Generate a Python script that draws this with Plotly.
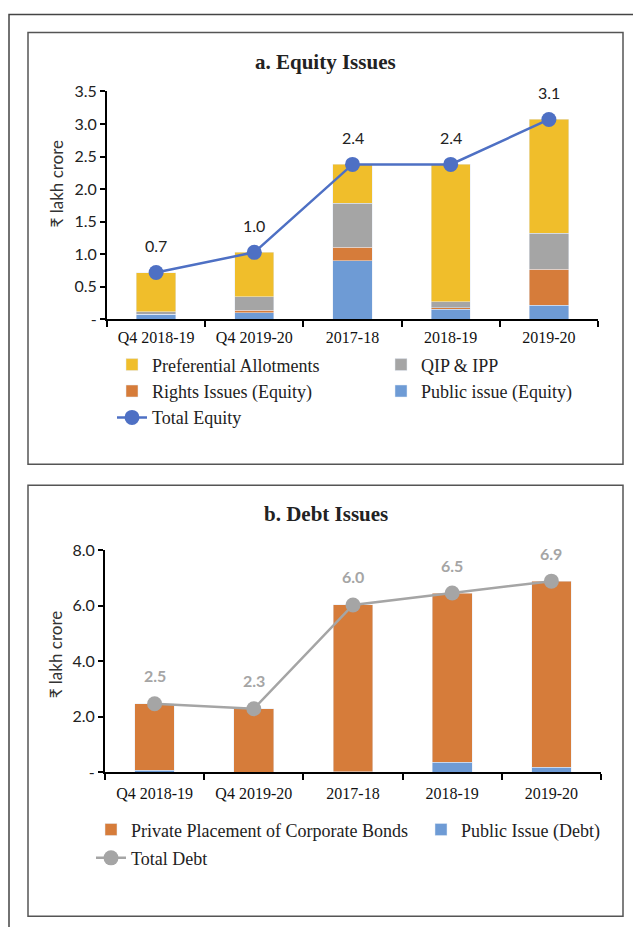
import plotly.graph_objects as go

# Drawing size and the page-pixel -> paper mapping used for layout positions.
W = 633
H = 937
Y_OFF = 8.5      # page rows above the drawing
Y_SCALE = 0.98   # page rows per drawing pixel

# ---- data -------------------------------------------------------------
categories = ["Q4 2018-19", "Q4 2019-20", "2017-18", "2018-19", "2019-20"]

# a. Equity issues (₹ lakh crore)
eq_public = [0.08, 0.10, 0.90, 0.155, 0.215]
eq_rights = [0.00, 0.04, 0.21, 0.025, 0.555]
eq_qip = [0.04, 0.21, 0.67, 0.09, 0.55]
eq_pref = [0.60, 0.68, 0.60, 2.11, 1.75]
eq_total = [0.72, 1.03, 2.38, 2.38, 3.07]

# b. Debt issues (₹ lakh crore)
debt_public = [0.08, 0.01, 0.02, 0.37, 0.18]
debt_private = [2.39, 2.28, 6.01, 6.09, 6.71]
debt_total = [2.47, 2.29, 6.03, 6.46, 6.89]

eq_ticks = [0, 0.5, 1.0, 1.5, 2.0, 2.5, 3.0, 3.5]
debt_ticks = [0, 2, 4, 6, 8]

# ---- styling ----------------------------------------------------------
C_PREF = "#F0BE2B"
C_QIP = "#A5A5A5"
C_RIGHTS = "#D67C3A"
C_PUBLIC = "#6E9BD5"
C_EQ_LINE = "#4E70C4"
C_DEBT_LINE = "#A5A5A5"

SERIF = "Liberation Serif, DejaVu Serif, serif"
SANS = "Lato, Noto Sans, DejaVu Sans, sans-serif"


def px_x(p):
    # page pixel column -> paper fraction
    return p / W


def px_y(p):
    # page pixel row -> paper fraction
    return 1 - ((p - Y_OFF) / Y_SCALE) / H


def fmt_tick(v):
    return "-" if v == 0 else f"{v:.1f}"


fig = go.Figure()

# stacked equity bars (bottom to top)
for name, vals, col, rank, leg in [
    ("Public issue (Equity)", eq_public, C_PUBLIC, 2, "legend2"),
    ("Rights Issues (Equity)", eq_rights, C_RIGHTS, 2, "legend"),
    ("QIP & IPP", eq_qip, C_QIP, 1, "legend2"),
    ("Preferential Allotments", eq_pref, C_PREF, 1, "legend"),
]:
    fig.add_trace(go.Bar(
        x=categories, y=vals, name=name, marker_color=col,
        xaxis="x", yaxis="y", width=0.4, legend=leg, legendrank=rank,
        legendgroup=name,
    ))

fig.add_trace(go.Scatter(
    x=categories, y=eq_total, name="Total Equity", mode="lines+markers",
    line=dict(color=C_EQ_LINE, width=2.5),
    marker=dict(color=C_EQ_LINE, size=15),
    xaxis="x", yaxis="y", legend="legend", legendrank=3, legendgroup="te",
))

# stacked debt bars
for name, vals, col, leg in [
    ("Public Issue (Debt)", debt_public, C_PUBLIC, "legend4"),
    ("Private Placement of Corporate Bonds", debt_private, C_RIGHTS, "legend3"),
]:
    fig.add_trace(go.Bar(
        x=categories, y=vals, name=name, marker_color=col,
        xaxis="x2", yaxis="y2", width=0.4, legend=leg, legendrank=1,
        legendgroup=name,
    ))

fig.add_trace(go.Scatter(
    x=categories, y=debt_total, name="Total Debt", mode="lines+markers",
    line=dict(color=C_DEBT_LINE, width=2.5),
    marker=dict(color=C_DEBT_LINE, size=15),
    xaxis="x2", yaxis="y2", legend="legend3", legendrank=2, legendgroup="td",
))

# value labels above the total markers
annotations = []
for c, v in zip(categories, eq_total):
    annotations.append(dict(
        x=c, y=v, xref="x", yref="y", text=f"{v:.1f}", showarrow=False,
        yshift=27, font=dict(family=SANS, size=16, color="#222222"),
    ))
for c, v in zip(categories, debt_total):
    annotations.append(dict(
        x=c, y=v, xref="x2", yref="y2", text=f"<b>{v:.1f}</b>", showarrow=False,
        yshift=28, font=dict(family=SANS, size=16, color="#A5A5A5"),
    ))

# panel titles and axis titles
annotations += [
    dict(x=px_x(326), y=px_y(61), xref="paper", yref="paper",
         xanchor="center", yanchor="middle",
         text="<b>a. Equity Issues</b>", showarrow=False,
         font=dict(family=SERIF, size=21, color="#222222")),
    dict(x=px_x(326), y=px_y(513), xref="paper", yref="paper",
         xanchor="center", yanchor="middle",
         text="<b>b. Debt Issues</b>", showarrow=False,
         font=dict(family=SERIF, size=21, color="#222222")),
    dict(x=px_x(56), y=px_y(182), xref="paper", yref="paper",
         xanchor="center", yanchor="middle",
         text="₹ lakh crore", textangle=-90, showarrow=False,
         font=dict(family=SANS, size=17, color="#333333")),
    dict(x=px_x(55), y=px_y(653), xref="paper", yref="paper",
         xanchor="center", yanchor="middle",
         text="₹ lakh crore", textangle=-90, showarrow=False,
         font=dict(family=SANS, size=17, color="#333333")),
]

# frames around the page and the two panels
shapes = [
    dict(type="rect", xref="paper", yref="paper",
         x0=px_x(9), x1=px_x(660), y0=px_y(13), y1=px_y(960),
         line=dict(color="#444444", width=1.5)),
    dict(type="rect", xref="paper", yref="paper",
         x0=px_x(28), x1=px_x(623), y0=px_y(31), y1=px_y(463),
         line=dict(color="#555555", width=1.5)),
    dict(type="rect", xref="paper", yref="paper",
         x0=px_x(28), x1=px_x(623), y0=px_y(484), y1=px_y(915),
         line=dict(color="#555555", width=1.5)),
]

xaxis_common = dict(
    type="category", tickson="boundaries", ticks="outside", ticklen=6,
    tickwidth=1.5, tickcolor="#000000", showline=True, linecolor="#000000",
    linewidth=2, showgrid=False, zeroline=False,
    tickfont=dict(family=SERIF, size=16, color="#111111"),
)
yaxis_common = dict(
    ticks="outside", ticklen=5, tickwidth=1.5, tickcolor="#000000",
    showline=True, linecolor="#000000", linewidth=2, showgrid=False,
    zeroline=False, tickfont=dict(family=SANS, size=16, color="#222222"),
)

legend_common = dict(
    xanchor="left", yanchor="top", bgcolor="rgba(0,0,0,0)",
    font=dict(family=SERIF, size=18, color="#222222"),
    traceorder="grouped", itemclick=False,
)

fig.update_layout(
    width=W, height=H, margin=dict(l=0, r=0, t=0, b=0),
    paper_bgcolor="white", plot_bgcolor="white",
    barmode="stack", showlegend=True,
    xaxis=dict(domain=[px_x(107), px_x(598)], anchor="y",
               ticklabelstandoff=2, **xaxis_common),
    yaxis=dict(domain=[px_y(318), px_y(90)], anchor="x", range=[0, 3.5],
               tickvals=eq_ticks, ticktext=[fmt_tick(v) for v in eq_ticks],
               **yaxis_common),
    xaxis2=dict(domain=[px_x(105), px_x(601)], anchor="y2",
                ticklabelstandoff=6, **xaxis_common),
    yaxis2=dict(domain=[px_y(771), px_y(549)], anchor="x2", range=[0, 8],
                tickvals=debt_ticks, ticktext=[fmt_tick(v) for v in debt_ticks],
                **yaxis_common),
    legend=dict(x=px_x(112), y=px_y(345), tracegroupgap=0, **legend_common),
    legend2=dict(x=px_x(381), y=px_y(345), tracegroupgap=0, **legend_common),
    legend3=dict(x=px_x(91), y=px_y(810), tracegroupgap=2, **legend_common),
    legend4=dict(x=px_x(421), y=px_y(810), tracegroupgap=2, **legend_common),
    annotations=annotations, shapes=shapes,
)

fig.write_html("out.html")
